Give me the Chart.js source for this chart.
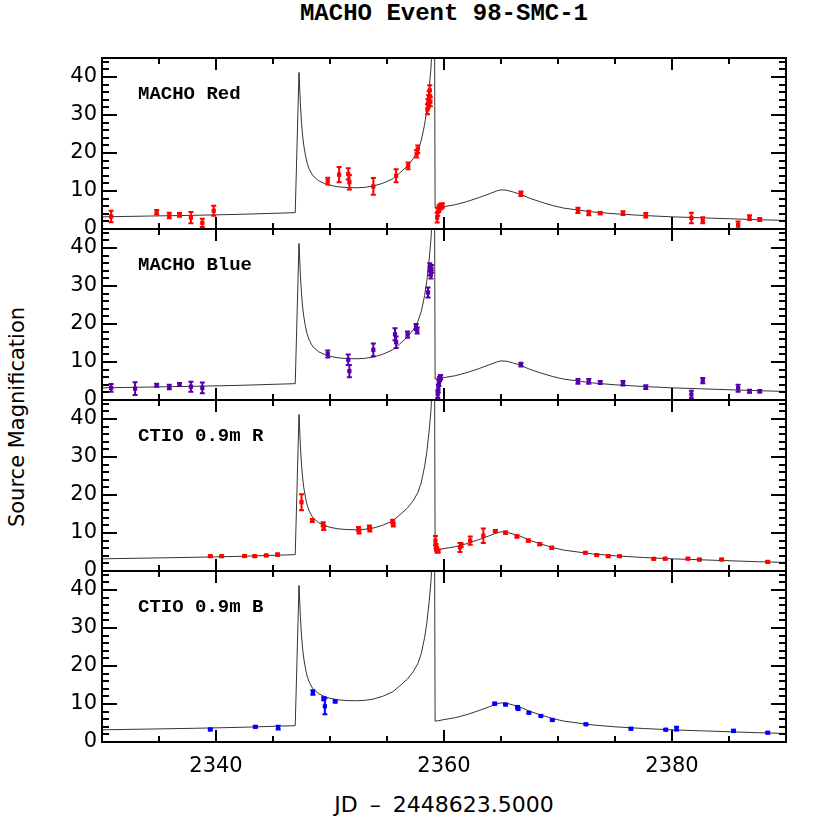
<!DOCTYPE html>
<html>
<head>
<meta charset="utf-8">
<title>MACHO Event 98-SMC-1</title>
<script src="https://cdn.jsdelivr.net/npm/chart.js@4.4.1/dist/chart.umd.min.js"></script>
<style>
  html, body { margin: 0; padding: 0; background: #fff; }
  #wrap { position: relative; width: 830px; height: 830px; overflow: hidden; }
  #wrap canvas { position: absolute; left: 0; top: 0; }
  .txt { position: absolute; white-space: pre; color: #000; line-height: 1; }
  #title { left: 102px; width: 684px; top: 0px; text-align: center; font: bold 24px "Liberation Mono"; }
  #xtitle { left: 102px; width: 684px; top: 792px; text-align: center; font: 22px "DejaVu Sans"; word-spacing: 5px; }
  #ytitle { left: -133px; top: 405px; width: 300px; height: 24px; line-height: 24px; text-align: center;
            font: 21px "DejaVu Sans"; transform: rotate(-90deg); }
  .plabel { left: 138px; font: bold 19px "Liberation Mono"; }
</style>
</head>
<body>
<div id="wrap">
  <div class="txt" id="title">MACHO Event 98-SMC-1</div>
  <div class="txt" id="xtitle">JD &ndash; 2448623.5000</div>
  <div class="txt" id="ytitle">Source Magnification</div>
</div>
<script>
/* ---- tick labels ---- */
const xTicks = [2340, 2360, 2380];
const yTicks = [0, 10, 20, 30, 40];

/* ---- model light curve ---- */
const modelT = [2330, 2334, 2338, 2342, 2346.95, 2347.28, 2347.33, 2347.4, 2347.5,
  2347.6, 2347.7, 2347.85, 2348.0, 2348.2, 2348.5, 2349.0, 2349.5, 2350.0, 2350.7, 2351.5, 2352.3, 2353.0,
  2353.8, 2354.6, 2355.5, 2356.1, 2356.8, 2357.3, 2357.7, 2358.0, 2358.3, 2358.5, 2358.7, 2358.85, 2359.0,
  2359.15, 2359.22, 2359.5, 2360.0, 2361.0, 2362.0, 2363.0, 2364.0, 2364.6, 2365.0, 2365.5, 2366.0, 2366.75,
  2367.5, 2368.5, 2369.5, 2370.5, 2371.75, 2373.0, 2375.0, 2377.5, 2380.0, 2382.5, 2385.0, 2387.5, 2390.0];
const modelM = [3.2, 3.4, 3.6, 3.85, 4.3, 41.2, 38, 33, 28,
  24.5, 22, 19.3, 17.3, 15.6, 14.0, 12.7, 12.0, 11.5, 11.1, 10.9, 10.85, 10.95,
  11.3, 12.0, 13.2, 14.7, 16.6, 18.5, 20.6, 23.2, 27.5, 31.5, 37, 42, 50,
  75, 5.5, 5.6, 5.9, 6.4, 7.2, 8.2, 9.3, 10.0, 10.3, 10.2, 9.8, 9.1,
  8.1, 7.1, 6.2, 5.5, 5.0, 4.5, 4.0, 3.55, 3.2, 2.95, 2.7, 2.45, 2.25];

/* ---- MACHO Red ---- */
const macRedT = [2330.8, 2334.8, 2335.9, 2336.8, 2337.8, 2338.8, 2339.8, 2349.8, 2350.8, 2351.6, 2351.7, 2353.8,
  2355.8, 2356.85, 2357.6, 2357.7, 2358.55, 2358.6, 2358.65, 2358.7, 2358.75, 2358.8, 2359.4, 2359.45, 2359.55,
  2359.65, 2359.75, 2359.85, 2366.75, 2371.75, 2372.7, 2373.7, 2375.7, 2377.7, 2381.7, 2382.7, 2385.8, 2386.8, 2387.7];
const macRedM = [3.3, 4.4, 3.55, 3.7, 3.0, 1.6, 4.8, 12.6, 14.3, 14.5, 12.3, 11.2,
  14.0, 16.6, 19.8, 21.0, 31.5, 33.0, 34.0, 35.0, 36.5, 33.5, 3.0, 4.5, 5.3,
  5.8, 6.0, 6.2, 9.3, 4.9, 4.2, 4.2, 4.2, 3.6, 2.9, 2.3, 1.1, 3.0, 2.5];
const macRedE = [1.5, 0.6, 0.7, 0.5, 1.5, 1.1, 1.3, 0.9, 2.0, 1.5, 1.9, 2.2,
  1.7, 0.9, 1.0, 1.0, 1.3, 1.2, 1.2, 1.3, 1.3, 1.2, 1.3, 1.0, 0.8,
  0.7, 0.7, 0.6, 0.6, 0.7, 0.6, 0.3, 0.5, 0.6, 1.4, 0.8, 0.9, 0.6, 0.4];

/* ---- MACHO Blue ---- */
const macBlueT = [2330.8, 2332.9, 2334.8, 2335.9, 2336.8, 2337.8, 2338.8, 2349.8, 2351.6, 2351.7, 2353.8, 2355.7,
  2355.8, 2356.8, 2357.55, 2357.65, 2358.6, 2358.75, 2358.8, 2358.85, 2358.9, 2359.45, 2359.5, 2359.55, 2359.6,
  2359.7, 2366.75, 2371.75, 2372.7, 2373.7, 2375.7, 2377.7, 2381.7, 2382.7, 2385.8, 2386.8, 2387.7];
const macBlueM = [3.2, 3.0, 3.9, 3.4, 4.1, 3.5, 3.2, 12.1, 10.6, 7.6, 13.2, 17.3,
  15.2, 17.2, 19.2, 18.3, 28.3, 35.0, 34.0, 33.0, 34.5, 1.5, 3.0, 4.5, 5.5,
  6.0, 9.3, 4.9, 4.9, 4.6, 4.4, 3.4, 1.45, 5.1, 3.1, 2.3, 2.3];
const macBlueE = [1.0, 1.7, 0.4, 0.6, 0.4, 1.3, 1.4, 0.9, 1.4, 1.6, 1.7, 1.6,
  1.5, 0.8, 0.8, 0.8, 1.3, 1.0, 1.2, 1.0, 1.0, 1.0, 1.0, 0.8, 0.6,
  0.6, 0.5, 0.6, 0.6, 0.4, 0.6, 0.5, 1.0, 0.7, 0.9, 0.4, 0.3];

/* ---- CTIO 0.9m R ---- */
const ctioRT = [2339.5, 2340.5, 2342.5, 2343.4, 2344.4, 2345.4, 2347.5, 2348.45, 2349.4, 2349.45, 2352.5, 2352.55,
  2353.45, 2353.5, 2355.5, 2355.55, 2359.25, 2359.3, 2359.35, 2359.4, 2359.5, 2361.4, 2361.5, 2362.3, 2363.45,
  2364.5, 2365.4, 2366.4, 2367.4, 2368.4, 2369.45, 2372.4, 2373.4, 2374.4, 2375.4, 2378.4, 2379.4, 2381.4, 2382.4,
  2384.35, 2388.4];
const ctioRM = [3.9, 3.9, 3.95, 3.9, 4.1, 4.3, 18.1, 13.3, 12.3, 11.4, 11.1, 10.4,
  11.5, 10.9, 13.0, 12.2, 8.0, 6.5, 5.8, 5.2, 5.3, 6.2, 6.8, 8.0, 9.3,
  10.5, 10.1, 9.1, 8.0, 7.1, 6.1, 4.8, 4.2, 3.9, 3.9, 3.2, 3.25, 3.25, 3.0,
  3.0, 2.4];
const ctioRE = [0.2, 0.2, 0.2, 0.2, 0.2, 0.3, 2.1, 0.4, 0.5, 0.6, 0.5, 0.5,
  0.5, 0.5, 0.5, 0.5, 1.2, 0.6, 0.5, 0.4, 0.4, 1.2, 0.5, 1.1, 1.9,
  0.3, 0.3, 0.3, 0.3, 0.3, 0.3, 0.2, 0.2, 0.2, 0.2, 0.2, 0.2, 0.2, 0.2,
  0.2, 0.2];

/* ---- CTIO 0.9m B ---- */
const ctioBT = [2339.5, 2343.45, 2345.45, 2348.5, 2349.45, 2349.55, 2350.45, 2364.45, 2365.4, 2366.45,
  2366.5, 2367.45, 2368.5, 2369.5, 2372.45, 2376.4, 2379.45, 2380.4, 2385.4, 2388.4];
const ctioBM = [3.3, 4.0, 3.8, 13.05, 11.4, 9.4, 10.7, 10.1, 9.85, 9.2,
  8.7, 7.7, 6.85, 5.8, 4.65, 3.5, 3.25, 3.5, 2.9, 2.45];
const ctioBE = [0.2, 0.2, 0.5, 0.6, 0.4, 2.1, 0.3, 0.2, 0.2, 0.2,
  0.2, 0.2, 0.2, 0.2, 0.2, 0.2, 0.2, 0.5, 0.3, 0.2];

// panel layout (pixel frame of each plot box)
const panels = [
  { label: 'MACHO Red',   color: '#ff0000', t: macRedT,  m: macRedM,  e: macRedE,  top: 58,  bottom: 229 },
  { label: 'MACHO Blue',  color: '#5500aa', t: macBlueT, m: macBlueM, e: macBlueE, top: 229, bottom: 400 },
  { label: 'CTIO 0.9m R', color: '#ff0000', t: ctioRT,   m: ctioRM,   e: ctioRE,   top: 400, bottom: 571 },
  { label: 'CTIO 0.9m B', color: '#0000ff', t: ctioBT,   m: ctioBM,   e: ctioBE,   top: 571, bottom: 742 }
];

// error bars (drawn after the model line, before the points) + boxed frame with inward ticks
const framePlugin = {
  id: 'frameTicks',
  afterDatasetDraw(chart, args) {
    if (args.index !== 1) return;
    const ds = chart.data.datasets[0];
    const { ctx, scales: { x, y } } = chart;
    ctx.save();
    ctx.strokeStyle = ds.errColor;
    ctx.lineWidth = 2;
    ctx.beginPath();
    ds.data.forEach((p, k) => {
      const px = x.getPixelForValue(p.x);
      const hi = y.getPixelForValue(p.y + ds.errors[k]);
      const lo = y.getPixelForValue(p.y - ds.errors[k]);
      ctx.moveTo(px, hi); ctx.lineTo(px, lo);
      ctx.moveTo(px - 2.5, hi); ctx.lineTo(px + 2.5, hi);
      ctx.moveTo(px - 2.5, lo); ctx.lineTo(px + 2.5, lo);
    });
    ctx.stroke();
    ctx.restore();
  },
  afterDraw(chart) {
    const { ctx, chartArea: a, scales: { x, y } } = chart;
    ctx.save();
    ctx.strokeStyle = '#000';
    ctx.lineWidth = 2;
    ctx.beginPath();
    for (let v = x.min; v <= x.max; v += 5) {
      const px = Math.round(x.getPixelForValue(v));
      const len = xTicks.includes(v) ? 12 : 6;
      ctx.moveTo(px, a.top); ctx.lineTo(px, a.top + len);
      ctx.moveTo(px, a.bottom); ctx.lineTo(px, a.bottom - len);
    }
    for (let v = 0; v <= y.max; v += 2) {
      const py = Math.round(y.getPixelForValue(v));
      const len = v % 10 === 0 ? 15 : 7;
      ctx.moveTo(a.left, py); ctx.lineTo(a.left + len, py);
      ctx.moveTo(a.right, py); ctx.lineTo(a.right - len, py);
    }
    ctx.stroke();
    ctx.strokeRect(a.left, a.top, a.right - a.left, a.bottom - a.top);
    ctx.restore();
  }
};

const wrap = document.getElementById('wrap');
const tickFont = { family: 'DejaVu Sans', size: 21 };

panels.forEach((p, i) => {
  const last = i === panels.length - 1;
  const canvas = document.createElement('canvas');
  canvas.width = 830;
  canvas.height = 830;
  wrap.appendChild(canvas);

  const lab = document.createElement('div');
  lab.className = 'txt plabel';
  lab.style.top = (p.top + 25) + 'px';
  lab.textContent = p.label;
  wrap.appendChild(lab);

  new Chart(canvas, {
    type: 'scatter',
    data: {
      datasets: [{
        label: p.label,
        data: p.t.map((v, k) => ({ x: v, y: p.m[k] })),
        errors: p.e,
        errColor: p.color,
        pointStyle: 'rect',
        pointRadius: 3,
        backgroundColor: p.color,
        borderWidth: 0
      }, {
        label: 'model',
        data: modelT.map((v, k) => ({ x: v, y: modelM[k] })),
        showLine: true,
        borderColor: 'rgba(0,0,0,0.8)',
        borderWidth: 1,
        pointRadius: 0,
        tension: 0
      }]
    },
    options: {
      responsive: false,
      animation: false,
      devicePixelRatio: 1,
      events: [],
      layout: { padding: { left: 42, right: 44, top: p.top, bottom: 830 - p.bottom - (last ? 40 : 0) } },
      plugins: { legend: { display: false }, tooltip: { enabled: false } },
      scales: {
        x: {
          type: 'linear', min: 2330, max: 2390, display: last,
          grid: { display: false, drawTicks: false }, border: { display: false },
          afterBuildTicks: s => { s.ticks = xTicks.map(v => ({ value: v })); },
          afterFit: s => { s.height = last ? 40 : 0; },
          ticks: { font: tickFont, color: '#000', padding: 12, maxRotation: 0, autoSkip: false,
                   callback: v => String(v) }
        },
        y: {
          type: 'linear', min: 0, max: 45,
          grid: { display: false, drawTicks: false }, border: { display: false },
          afterBuildTicks: s => { s.ticks = yTicks.map(v => ({ value: v })); },
          afterFit: s => { s.width = 60; },
          ticks: { font: tickFont, color: '#000', padding: 5, autoSkip: false, callback: v => String(v) }
        }
      }
    },
    plugins: [framePlugin]
  });
});
</script>
</body>
</html>
